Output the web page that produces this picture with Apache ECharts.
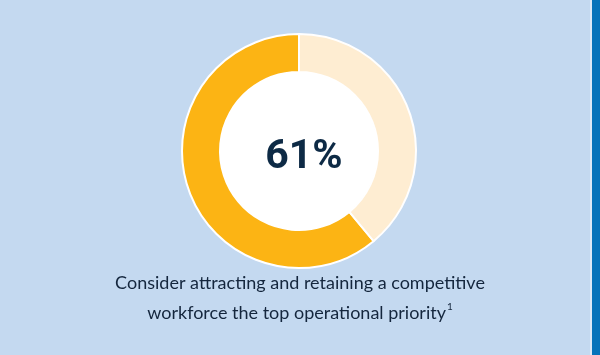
<!DOCTYPE html>
<html>
<head>
<meta charset="utf-8">
<script src="https://cdn.jsdelivr.net/npm/echarts@6/dist/echarts.min.js"></script>
<style>
  html, body { margin: 0; padding: 0; background: #c4d9f0; }
  #chart { width: 600px; height: 355px; }
</style>
</head>
<body>
<div id="chart"></div>
<script>
// data
const shareNames = ['Top priority', 'Other'];
const shareValues = [61, 39];
const centerLabel = '61%';
const captionLines = ['Consider attracting and retaining a competitive', 'workforce the top operational priority'];
const footnoteMark = '1';

const chart = echarts.init(document.getElementById('chart'));

const captionFont = 'Lato, "Noto Sans", sans-serif';

const option = {
    backgroundColor: '#c4d9f0',
    animation: false,
    graphic: [
        // dark strip on the right edge
        { type: 'rect', shape: { x: 590, y: 0, width: 2, height: 355 }, style: { fill: '#dce9f7' } },
        { type: 'rect', shape: { x: 592, y: 0, width: 8, height: 355 }, style: { fill: '#0673ba' } },
        {
            type: 'text',
            left: 'center',
            top: 274,
            style: {
                text: captionLines[0],
                font: '18px ' + captionFont,
                fill: '#14263d'
            }
        },
        {
            type: 'text',
            left: 'center',
            top: 302,
            style: {
                text: '{t|' + captionLines[1] + '}{sup|' + footnoteMark + '}',
                rich: {
                    t: { fontFamily: captionFont, fontSize: 18, lineHeight: 22, fill: '#14263d' },
                    sup: { fontFamily: captionFont, fontSize: 10, lineHeight: 12, verticalAlign: 'top', fill: '#14263d', padding: [0, 0, 0, 1] }
                }
            }
        }
    ],
    series: [
        {
            type: 'pie',
            silent: true,
            center: [299, 151],
            radius: [0, 80],
            label: { show: false },
            itemStyle: { color: '#ffffff' },
            data: [1]
        },
        {
            type: 'pie',
            silent: true,
            center: [299, 151],
            radius: [79, 117],
            startAngle: 90,
            clockwise: false,
            label: { show: false },
            labelLine: { show: false },
            itemStyle: { borderColor: '#ffffff', borderWidth: 2 },
            data: shareNames.map((n, i) => ({
                name: n,
                value: shareValues[i],
                itemStyle: { color: i === 0 ? '#fcb414' : '#feedd2' }
            }))
        }
    ],
    title: {
        text: centerLabel,
        left: 299,
        top: 153,
        textAlign: 'center',
        textVerticalAlign: 'middle',
        textStyle: {
            fontFamily: 'Roboto, "Noto Sans", sans-serif',
            fontWeight: 'bold',
            fontSize: 41,
            color: '#0d2a45'
        }
    }
};

chart.setOption(option);
</script>
</body>
</html>
